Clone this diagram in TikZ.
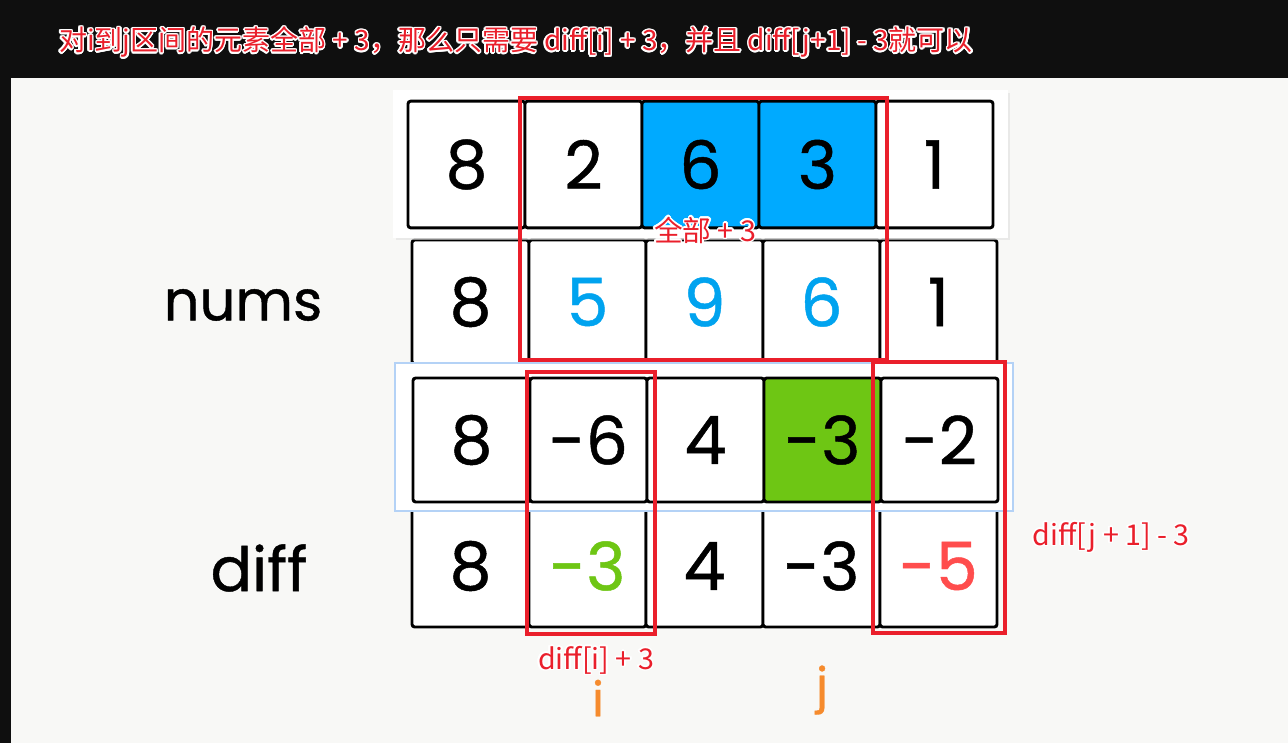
\documentclass[tikz,border=0pt]{standalone}
\usepackage{fontspec}
\usepackage{contour}
\setmainfont{Noto Sans CJK SC}
\newfontfamily\roundfont[FakeBold=0.7]{Poppins}
\definecolor{barblack}{HTML}{0F0F0F}
\definecolor{paper}{HTML}{F8F8F6}
\definecolor{boxred}{HTML}{EA1F2B}
\definecolor{cellblue}{HTML}{00AAFF}
\definecolor{numblue}{HTML}{00A3EF}
\definecolor{cellgreen}{HTML}{6EC614}
\definecolor{minusred}{HTML}{FF4D4D}
\definecolor{idxorange}{HTML}{F68B2D}
\definecolor{panelblue}{HTML}{B4D2F6}
\contourlength{1.1pt}
\begin{document}
\begin{tikzpicture}[x=0.75pt, y=-0.75pt,
    cell/.style={draw, line width=2.2pt, rounded corners=2pt, inner sep=0pt,
      minimum width=87.75pt, font=\roundfont\fontsize{50}{54}\selectfont},
    hilite/.style={draw=boxred, line width=2.3pt},
    note/.style={text=boxred, inner sep=0pt, font=\fontsize{21.5}{24}\selectfont},
    rowname/.style={inner sep=0pt, font=\roundfont\fontsize{42}{46}\selectfont},
    idx/.style={text=idxorange, inner sep=0pt, font=\roundfont\fontsize{36}{40}\selectfont}]
   \useasboundingbox (0,0) rectangle (1288,743);
   \fill[barblack] (0,0) rectangle (1288,743);
   \fill[paper] (11,78) rectangle (1288,743);

   % title bar
   \node[note, font=\fontsize{21}{24}\selectfont] (title) at (516,43)
     {\contour{white}{对i到j区间的元素全部 + 3，那么只需要 diff[i] + 3，并且 diff[j+1] - 3就可以}};

   % nums row and diff row
   \foreach \v/\c [count=\k] in {8/black,5/numblue,9/numblue,6/numblue,1/black}
     \node[cell, fill=white, text=\c, minimum height=93pt] (nums-\k) at ({412+117*(\k-0.5)},302) {\v};
   \foreach \v/\c [count=\k] in {8/black,-3/cellgreen,4/black,-3/black,-5/minusred}
     \node[cell, fill=white, text=\c, minimum height=91.5pt] (diff-\k) at ({412+117*(\k-0.5)},566) {\v};

   % original array
   \fill[black!12, opacity=0.6] (396,93) rectangle (1010,240);
   \fill[white] (393,90) rectangle (1008,238);
   \foreach \v/\f [count=\k] in {8/white,2/white,6/cellblue,3/cellblue,1/white}
     \node[cell, fill=\f, minimum height=95pt] (orig-\k) at ({408+117*(\k-0.5)},164.5) {\v};

   % old diff array
   \draw[panelblue, fill=white, line width=1pt] (395,363) rectangle (1013,511);
   \foreach \v/\f [count=\k] in {8/white,-6/white,4/white,-3/cellgreen,-2/white}
     \node[cell, fill=\f, minimum height=93pt] (dsrc-\k) at ({413+117*(\k-0.5)},440) {\v};

   % red frames
   \draw[hilite] (520,98) rectangle (887,360);
   \draw[hilite] (527,372) rectangle (655,634);
   \draw[hilite] (873,362) rectangle (1005,633);

   \node[rowname] (lbl-nums) at (243,305) {nums};
   \node[rowname, font=\roundfont\fontsize{46}{50}\selectfont] (lbl-diff) at (259,568) {diff};

   \node[note] (note-all) at (705,231) {\contour{white}{全部 + 3}};
   \node[note] (note-i) at (596,661) {\contour{white}{diff[i] + 3}};
   \node[note] (note-j) at (1111,538) {\contour{white}{diff[j + 1] - 3}};

   \node[idx] (idx-i) at (598,698) {i};
   \node[idx] (idx-j) at (822,690) {j};
\end{tikzpicture}
\end{document}
